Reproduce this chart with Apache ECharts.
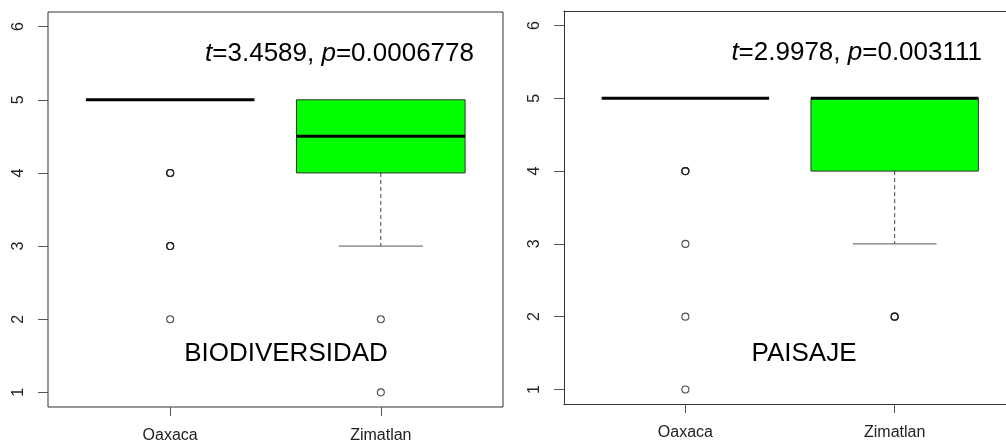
<!DOCTYPE html>
<html>
<head>
<meta charset="utf-8">
<script src="https://cdn.jsdelivr.net/npm/echarts@6/dist/echarts.min.js"></script>
<style>
html,body{margin:0;padding:0;background:#fff;}
#chart{width:1006px;height:444px;}
</style>
</head>
<body>
<div id="chart"></div>
<script>
// ---- data ----
const categories = ['Oaxaca', 'Zimatlan'];
const categoryPos = [1, 2];
const yTicks = [1, 2, 3, 4, 5, 6];
const boxColors = ['#ffffff', '#00ff00'];
// [lowerWhisker, Q1, median, Q3, upperWhisker]
const bioStatsOaxaca = [5, 5, 5, 5, 5];
const bioStatsZimatlan = [3, 4, 4.5, 5, 5];
const paiStatsOaxaca = [5, 5, 5, 5, 5];
const paiStatsZimatlan = [3, 4, 5, 5, 5];
// outliers: [categoryPosition, value] (repeated entries = overlapping points)
const bioOutliers = [[1, 4], [1, 4], [1, 4], [1, 3], [1, 3], [1, 3], [1, 2], [2, 2], [2, 1]];
const paiOutliers = [[1, 4], [1, 4], [1, 4], [1, 3], [1, 2], [1, 1], [2, 2], [2, 2], [2, 2]];
const bioTest = { t: '3.4589', p: '0.0006778' };
const paiTest = { t: '2.9978', p: '0.003111' };
const panelTitles = ['BIODIVERSIDAD', 'PAISAJE'];

const FONT = '"Liberation Sans", Arial, Helvetica, sans-serif';

function boxData(a, b) {
  return [
    [categoryPos[0]].concat(a).concat([0]),
    [categoryPos[1]].concat(b).concat([1])
  ];
}

function renderBox(params, api) {
  const x = api.value(0);
  const lo = api.value(1), q1 = api.value(2), med = api.value(3), q3 = api.value(4), hi = api.value(5);
  const ci = api.value(6);
  const hw = 0.4, sw = 0.2;
  const tl = api.coord([x - hw, q3]);
  const br = api.coord([x + hw, q1]);
  const cx = api.coord([x, q1])[0];
  const pLo = api.coord([x, lo]);
  const pHi = api.coord([x, hi]);
  const pQ1 = api.coord([x, q1]);
  const pQ3 = api.coord([x, q3]);
  const sL = api.coord([x - sw, lo])[0];
  const sR = api.coord([x + sw, lo])[0];
  const pMedL = api.coord([x - hw, med]);
  const pMedR = api.coord([x + hw, med]);
  const children = [];
  if (pLo[1] > pQ1[1] + 0.5) {
    children.push({ type: 'line', shape: { x1: cx, y1: pQ1[1], x2: cx, y2: pLo[1] },
      style: { stroke: '#444', lineWidth: 1, lineDash: [4, 3] } });
    children.push({ type: 'line', shape: { x1: sL, y1: pLo[1], x2: sR, y2: pLo[1] },
      style: { stroke: '#555', lineWidth: 1 } });
  }
  if (pHi[1] < pQ3[1] - 0.5) {
    children.push({ type: 'line', shape: { x1: cx, y1: pQ3[1], x2: cx, y2: pHi[1] },
      style: { stroke: '#444', lineWidth: 1, lineDash: [4, 3] } });
    children.push({ type: 'line', shape: { x1: sL, y1: pHi[1], x2: sR, y2: pHi[1] },
      style: { stroke: '#555', lineWidth: 1 } });
  }
  if (br[1] - tl[1] > 0.5) {
    children.push({ type: 'rect', shape: { x: tl[0], y: tl[1], width: br[0] - tl[0], height: br[1] - tl[1] },
      style: { fill: boxColors[ci], stroke: '#333', lineWidth: 1 } });
  }
  children.push({ type: 'line', shape: { x1: pMedL[0], y1: pMedL[1], x2: pMedR[0], y2: pMedR[1] },
    style: { stroke: '#000', lineWidth: 3, lineCap: 'butt' } });
  return { type: 'group', children: children };
}

const FRAME = { show: true, lineStyle: { color: '#333', width: 1 } };

function xAxisFor(gi, xmax, line) {
  return {
    gridIndex: gi, type: 'value', min: 0.42, max: xmax,
    axisLine: line ? FRAME : { show: false },
    splitLine: { show: false },
    axisTick: { show: true, length: 9, customValues: categoryPos, lineStyle: { color: '#555', width: 1 } },
    axisLabel: { show: true, customValues: categoryPos, margin: 21, fontSize: 16, color: '#222', fontFamily: FONT,
      formatter: function (v) { return categories[categoryPos.indexOf(v)] || ''; } }
  };
}
function topLineAxis(gi, xmax) {
  return {
    gridIndex: gi, type: 'value', position: 'top', min: 0.42, max: xmax,
    axisLine: FRAME, axisTick: { show: false }, axisLabel: { show: false }, splitLine: { show: false }
  };
}
function yAxisFor(gi, line) {
  return {
    gridIndex: gi, type: 'value', min: 0.8, max: 6.2,
    axisLine: line ? FRAME : { show: false },
    splitLine: { show: false },
    axisTick: { show: true, length: 10, customValues: yTicks, lineStyle: { color: '#555', width: 1 } },
    axisLabel: { show: true, customValues: yTicks, rotate: 90, margin: 21, fontSize: 16, color: '#222', fontFamily: FONT }
  };
}

function testText(x, y, tst) {
  return {
    type: 'text', x: x, y: y,
    style: {
      text: '{i|t}{n|=' + tst.t + ', }{i|p}{n|=' + tst.p + '}',
      align: 'right', verticalAlign: 'middle',
      rich: {
        i: { fontStyle: 'italic', fontSize: 26, fontFamily: FONT, fill: '#000' },
        n: { fontSize: 26, fontFamily: FONT, fill: '#000' }
      }
    }
  };
}

// right panel is cut by the image edge: its plot area runs past the right border
const rightXMax = 2.532;

const chart = echarts.init(document.getElementById('chart'), null, { renderer: 'canvas' });
chart.setOption({
  animation: false,
  backgroundColor: '#fff',
  grid: [
    { left: 48, top: 12, width: 455, height: 395, show: true, borderColor: '#333', borderWidth: 1, backgroundColor: 'transparent' },
    { left: 564, top: 11, right: 0, height: 393, show: false }
  ],
  xAxis: [xAxisFor(0, 2.58, false), xAxisFor(1, rightXMax, true), topLineAxis(1, rightXMax)],
  yAxis: [yAxisFor(0, false), yAxisFor(1, true)],
  series: [
    { type: 'custom', xAxisIndex: 0, yAxisIndex: 0, renderItem: renderBox, data: boxData(bioStatsOaxaca, bioStatsZimatlan), z: 2 },
    { type: 'scatter', xAxisIndex: 0, yAxisIndex: 0, data: bioOutliers, symbol: 'circle', symbolSize: 7,
      itemStyle: { color: 'rgba(0,0,0,0)', borderColor: '#222', borderWidth: 1.1 }, z: 3 },
    { type: 'custom', xAxisIndex: 1, yAxisIndex: 1, renderItem: renderBox, data: boxData(paiStatsOaxaca, paiStatsZimatlan), z: 2 },
    { type: 'scatter', xAxisIndex: 1, yAxisIndex: 1, data: paiOutliers, symbol: 'circle', symbolSize: 7,
      itemStyle: { color: 'rgba(0,0,0,0)', borderColor: '#222', borderWidth: 1.1 }, z: 3 }
  ],
  graphic: [
    testText(474, 54, bioTest),
    testText(982, 53, paiTest),
    { type: 'text', x: 286, y: 354, style: { text: panelTitles[0], align: 'center', verticalAlign: 'middle', fontSize: 26, fontFamily: FONT, fill: '#000' } },
    { type: 'text', x: 804, y: 354, style: { text: panelTitles[1], align: 'center', verticalAlign: 'middle', fontSize: 26, fontFamily: FONT, fill: '#000' } }
  ]
});
</script>
</body>
</html>
